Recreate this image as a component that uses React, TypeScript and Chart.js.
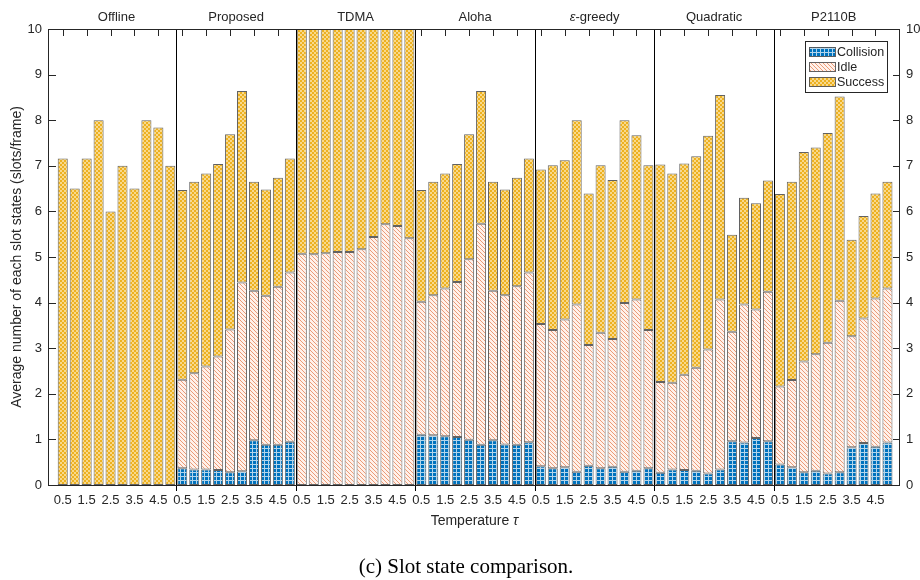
import React, { useEffect, useRef } from "react";
import { Chart, registerables } from "chart.js";

Chart.register(...registerables);

// ---------------- data ----------------
const GROUPS = ["Offline", "Proposed", "TDMA", "Aloha", "ε-greedy", "Quadratic", "P2110B"];
const TAU = ["0.5", "1", "1.5", "2", "2.5", "3", "3.5", "4", "4.5", "5"];
const TAU_TICK_INDEX = [0, 2, 4, 6, 8]; // labelled τ = 0.5, 1.5, 2.5, 3.5, 4.5
const SERIES = ["Collision", "Idle", "Success"];
const Y_MIN = 0;
const Y_MAX = 10;
const Y_STEP = 1;
const Y_TITLE = "Average number of each slot states (slots/frame)";
const X_TITLE = "Temperature ";
const X_TITLE_SYMBOL = "τ";
const CAPTION = "(c) Slot state comparison.";

// one row per group, one value per τ (slots/frame)
const COLLISION = [
  [0, 0, 0, 0, 0, 0, 0, 0, 0, 0],
  [0.37, 0.34, 0.34, 0.33, 0.28, 0.3, 0.98, 0.88, 0.88, 0.95],
  [0, 0, 0, 0, 0, 0, 0, 0, 0, 0],
  [1.1, 1.09, 1.07, 1.05, 0.99, 0.88, 0.98, 0.89, 0.88, 0.94],
  [0.41, 0.37, 0.39, 0.29, 0.42, 0.37, 0.4, 0.29, 0.31, 0.37],
  [0.27, 0.34, 0.33, 0.31, 0.25, 0.34, 0.96, 0.93, 1.03, 0.96],
  [0.45, 0.39, 0.28, 0.31, 0.25, 0.28, 0.83, 0.92, 0.84, 0.93],
];
const IDLE = [
  [0, 0, 0, 0, 0, 0, 0, 0, 0, 0],
  [1.94, 2.11, 2.26, 2.49, 3.13, 4.14, 3.28, 3.27, 3.47, 3.71],
  [5.07, 5.06, 5.08, 5.11, 5.11, 5.17, 5.44, 5.72, 5.68, 5.41],
  [2.92, 3.07, 3.24, 3.4, 3.96, 4.85, 3.28, 3.27, 3.48, 3.72],
  [3.12, 3.03, 3.24, 3.67, 2.65, 2.97, 2.8, 3.7, 3.76, 3.03],
  [1.99, 1.9, 2.09, 2.26, 2.72, 3.73, 2.4, 3.03, 2.82, 3.28],
  [1.71, 1.91, 2.43, 2.56, 2.87, 3.76, 2.43, 2.73, 3.25, 3.38],
];
const SUCCESS = [
  [7.16, 6.5, 7.16, 8.0, 6.0, 7.0, 6.5, 8.0, 7.84, 7.0],
  [4.16, 4.2, 4.23, 4.22, 4.28, 4.2, 2.39, 2.33, 2.39, 2.5],
  [5.93, 5.94, 5.92, 5.89, 5.89, 5.83, 5.56, 5.28, 5.32, 5.59],
  [2.45, 2.49, 2.52, 2.59, 2.74, 2.91, 2.39, 2.32, 2.38, 2.5],
  [3.39, 3.61, 3.49, 4.04, 3.32, 3.67, 3.49, 4.01, 3.6, 3.61],
  [4.77, 4.59, 4.63, 4.64, 4.69, 4.48, 2.13, 2.34, 2.33, 2.44],
  [4.22, 4.35, 4.59, 4.53, 4.6, 4.48, 2.12, 2.25, 2.3, 2.34],
];

// ---------------- styling ----------------
const SANS = '"Liberation Sans", Arial, Helvetica, sans-serif';
const SERIF = '"Liberation Serif", "Times New Roman", serif';
const TEXT = "#262626";
const AXIS = "#262626";
const EDGE = "rgba(70,70,70,0.85)";

const N = TAU.length;
const pos = (g: number, k: number) => g * N + k + 1;
const TICK_POSITIONS = GROUPS.flatMap((_, g) => TAU_TICK_INDEX.map((k) => pos(g, k)));

function tile(size: number, draw: (g: CanvasRenderingContext2D) => void) {
  const c = document.createElement("canvas");
  c.width = size;
  c.height = size;
  const g = c.getContext("2d")!;
  draw(g);
  return g.createPattern(c, "repeat")!;
}

function makePatterns() {
  const collision = tile(4, (g) => {
    g.fillStyle = "#0072BD";
    g.fillRect(0, 0, 4, 4);
    g.fillStyle = "rgba(255,255,255,0.7)";
    g.fillRect(0, 0, 4, 1);
    g.fillRect(0, 1, 1, 3);
  });
  const idle = tile(4, (g) => {
    g.fillStyle = "#FFF1EA";
    g.fillRect(0, 0, 4, 4);
    g.fillStyle = "rgba(217,83,25,0.55)";
    for (let i = 0; i < 4; i++) g.fillRect(i, i, 1, 1);
  });
  const success = tile(4, (g) => {
    g.fillStyle = "#EDB120";
    g.fillRect(0, 0, 4, 4);
    g.fillStyle = "#F8D98C";
    g.fillRect(2, 0, 2, 2);
    g.fillRect(0, 2, 2, 2);
  });
  return [collision, idle, success];
}

export default function App() {
  const ref = useRef<HTMLCanvasElement>(null);

  useEffect(() => {
    const canvas = ref.current!;
    const patterns = makePatterns();
    const rows = [COLLISION, IDLE, SUCCESS];

    const datasets = SERIES.map((label, s) => ({
      label,
      backgroundColor: patterns[s],
      borderColor: EDGE,
      borderWidth: 1,
      borderSkipped: false as const,
      categoryPercentage: 0.84,
      barPercentage: 1,
      clip: 0,
      stack: "slots",
      data: rows[s].flatMap((row, g) =>
        row.map((v, k) => ({ x: pos(g, k), y: v > 0 ? v : null }))
      ),
    }));

    const extras = {
      id: "extras",
      beforeDatasetsDraw(chart: any) {
        const { ctx, chartArea: a, scales } = chart;
        const y = scales.y;
        const x = scales.x;
        ctx.save();
        ctx.strokeStyle = AXIS;
        ctx.lineWidth = 1;
        ctx.beginPath();
        for (let v = Y_MIN; v <= Y_MAX; v += Y_STEP) {
          const py = Math.round(y.getPixelForValue(v)) + 0.5;
          ctx.moveTo(a.left, py);
          ctx.lineTo(a.left + 7, py);
          ctx.moveTo(a.right, py);
          ctx.lineTo(a.right - 7, py);
        }
        for (const p of TICK_POSITIONS) {
          const px = Math.round(x.getPixelForValue(p)) + 0.5;
          ctx.moveTo(px, a.top);
          ctx.lineTo(px, a.top + 7);
        }
        ctx.stroke();
        ctx.restore();
      },
      afterDatasetsDraw(chart: any) {
        const { ctx, chartArea: a, scales } = chart;
        const x = scales.x;
        ctx.save();
        // group separators
        ctx.strokeStyle = "#000";
        ctx.lineWidth = 1;
        ctx.beginPath();
        for (let g = 1; g < GROUPS.length; g++) {
          const px = Math.round(x.getPixelForValue(g * N + 0.5)) + 0.5;
          ctx.moveTo(px, a.top);
          ctx.lineTo(px, a.bottom + 6);
        }
        ctx.stroke();
        // axes box
        ctx.strokeStyle = AXIS;
        const l = Math.round(a.left) - 0.5;
        const r = Math.round(a.right) - 0.5;
        const t = Math.round(a.top) + 0.5;
        const b = Math.round(a.bottom) + 0.5;
        ctx.strokeRect(l, t, r - l, b - t);
        ctx.restore();
      },
      afterDraw(chart: any) {
        const { ctx, chartArea: a, scales } = chart;
        const x = scales.x;
        ctx.save();
        ctx.fillStyle = TEXT;
        ctx.textBaseline = "alphabetic";
        // group titles
        const gf = `13px ${SANS}`;
        const gfi = `italic 13px ${SANS}`;
        GROUPS.forEach((name, g) => {
          const cx = x.getPixelForValue(g * N + (N + 1) / 2);
          const ty = a.top - 8;
          if (name.startsWith("ε")) {
            ctx.font = gfi;
            const w1 = ctx.measureText("ε").width;
            ctx.font = gf;
            const rest = name.slice(1);
            const w2 = ctx.measureText(rest).width;
            const x0 = cx - (w1 + w2) / 2;
            ctx.textAlign = "left";
            ctx.font = gfi;
            ctx.fillText("ε", x0, ty);
            ctx.font = gf;
            ctx.fillText(rest, x0 + w1, ty);
          } else {
            ctx.font = gf;
            ctx.textAlign = "center";
            ctx.fillText(name, cx, ty);
          }
        });
        // x-axis title with italic tau
        const xf = `14px ${SANS}`;
        const xfi = `italic 14px ${SANS}`;
        ctx.font = xf;
        const w1 = ctx.measureText(X_TITLE).width;
        ctx.font = xfi;
        const w2 = ctx.measureText(X_TITLE_SYMBOL).width;
        const xc = (a.left + a.right) / 2;
        const x0 = xc - (w1 + w2) / 2;
        ctx.textAlign = "left";
        ctx.font = xf;
        ctx.fillText(X_TITLE, x0, a.bottom + 40);
        ctx.font = xfi;
        ctx.fillText(X_TITLE_SYMBOL, x0 + w1, a.bottom + 40);
        // caption
        ctx.font = `21px ${SERIF}`;
        ctx.textAlign = "center";
        ctx.fillStyle = "#000";
        ctx.fillText(CAPTION, 466, 573);
        // legend
        const lx = Math.round(a.right) - 95;
        const ly = Math.round(a.top) + 12;
        const lw = 82;
        const lh = 51;
        ctx.fillStyle = "#fff";
        ctx.fillRect(lx, ly, lw, lh);
        ctx.strokeStyle = AXIS;
        ctx.lineWidth = 1;
        ctx.strokeRect(lx + 0.5, ly + 0.5, lw, lh);
        ctx.font = `12.5px ${SANS}`;
        ctx.textBaseline = "middle";
        ctx.textAlign = "left";
        SERIES.forEach((name, i) => {
          const cy = ly + 11 + i * 15;
          ctx.fillStyle = patterns[i];
          ctx.fillRect(lx + 4, cy - 4.5, 26, 9);
          ctx.strokeStyle = EDGE;
          ctx.strokeRect(lx + 4.5, cy - 4.5, 26, 9);
          ctx.fillStyle = TEXT;
          ctx.fillText(name, lx + 32, cy + 0.5);
        });
        ctx.restore();
      },
    };

    const tickFont = { family: SANS, size: 13 };

    const chart = new Chart(canvas, {
      type: "bar",
      data: { datasets: datasets as any },
      options: {
        animation: false,
        responsive: false,
        maintainAspectRatio: false,
        devicePixelRatio: 1,
        layout: { padding: { top: 29, bottom: 45, left: 0, right: 0 } },
        plugins: {
          legend: { display: false },
          title: { display: false },
          tooltip: { enabled: false },
        },
        scales: {
          x: {
            type: "linear",
            min: -0.15,
            max: GROUPS.length * N + 1.05,
            offset: false,
            stacked: true,
            grid: { display: false, drawTicks: false, offset: false },
            border: { display: false },
            afterBuildTicks: (s: any) => {
              s.ticks = TICK_POSITIONS.map((v) => ({ value: v }));
            },
            afterFit: (s: any) => {
              s.height = 50;
            },
            ticks: {
              autoSkip: false,
              maxRotation: 0,
              minRotation: 0,
              padding: 8,
              color: TEXT,
              font: tickFont,
              callback: (v: any) => TAU[(Math.round(Number(v)) - 1) % N],
            },
          },
          y: {
            type: "linear",
            position: "left",
            min: Y_MIN,
            max: Y_MAX,
            stacked: true,
            grid: { display: false, drawTicks: false },
            border: { display: false },
            afterFit: (s: any) => {
              s.width = 49;
            },
            ticks: { stepSize: Y_STEP, padding: 7, color: TEXT, font: tickFont },
            title: {
              display: true,
              text: Y_TITLE,
              color: TEXT,
              font: { family: SANS, size: 14 },
              padding: { top: 9, bottom: 0 },
            },
          },
          y2: {
            type: "linear",
            position: "right",
            min: Y_MIN,
            max: Y_MAX,
            grid: { display: false, drawTicks: false },
            border: { display: false },
            afterFit: (s: any) => {
              s.width = 20;
            },
            ticks: { stepSize: Y_STEP, padding: 6, color: TEXT, font: tickFont },
          },
        },
      } as any,
      plugins: [extras],
    });

    return () => chart.destroy();
  }, []);

  return (
    <div
      style={{
        position: "fixed",
        left: 0,
        top: 0,
        width: 920,
        height: 580,
        background: "#fff",
      }}
    >
      <canvas ref={ref} width={920} height={580} style={{ display: "block", width: 920, height: 580 }} />
    </div>
  );
}
